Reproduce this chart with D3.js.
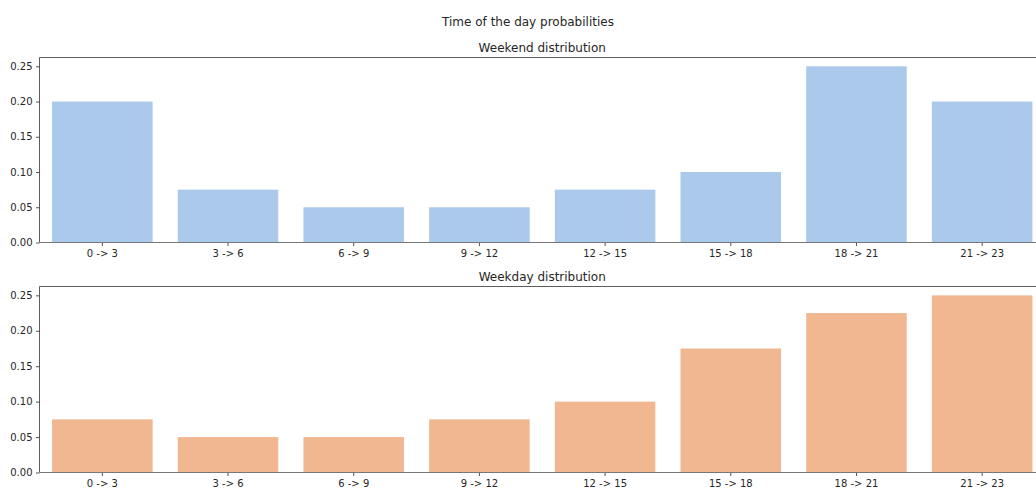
<!DOCTYPE html>
<html><head><meta charset="utf-8">
<script src="https://cdn.jsdelivr.net/npm/d3@7"></script>
<style>body{margin:0;background:#fff;} svg{display:block;font-family:"DejaVu Sans",sans-serif;}</style>
</head><body>
<svg id="c" width="1036" height="490"></svg>
<script>
const categories = ["0 -> 3","3 -> 6","6 -> 9","9 -> 12","12 -> 15","15 -> 18","18 -> 21","21 -> 23"];
const weekendValues = [0.2, 0.075, 0.05, 0.05, 0.075, 0.1, 0.25, 0.2];
const weekdayValues = [0.075, 0.05, 0.05, 0.075, 0.1, 0.175, 0.225, 0.25];
const yTicks = [0, 0.05, 0.10, 0.15, 0.20, 0.25];
const suptitle = "Time of the day probabilities";
const panels = [
  {title: "Weekend distribution", values: weekendValues, color: "#abc9ea", top: 57.5, bottom: 242.5},
  {title: "Weekday distribution", values: weekdayValues, color: "#f0b791", top: 286.5, bottom: 472.5}
];

const svg = d3.select("#c");
const left = 39.5, right = 1045;
const textColor = "#262626";

svg.append("text").attr("x", 528).attr("y", 26).attr("text-anchor","middle")
  .attr("font-size", 12).attr("fill", textColor).text(suptitle);

const x = d3.scaleBand().domain(categories).range([left, right]).paddingInner(0.2).paddingOuter(0.1);

panels.forEach(p => {
  const y = d3.scaleLinear().domain([0, 0.2625]).range([p.bottom, p.top]);
  const g = svg.append("g");
  g.selectAll("rect").data(p.values).join("rect")
    .attr("x", (d,i) => x(categories[i]))
    .attr("width", x.bandwidth())
    .attr("y", d => y(d))
    .attr("height", d => y(0) - y(d))
    .attr("fill", p.color);

  const yAxis = g.append("g").attr("transform", `translate(${left},0)`)
    .call(d3.axisLeft(y).tickValues(yTicks).tickFormat(d3.format(".2f")).tickSize(3.5).tickPadding(3.5));
  yAxis.select(".domain").remove();
  yAxis.selectAll("line").attr("stroke", textColor).attr("stroke-width", 0.8);
  yAxis.selectAll("text").attr("font-size", 10).attr("fill", textColor).attr("font-family", "DejaVu Sans");

  const xAxis = g.append("g").attr("transform", `translate(0,${p.bottom})`)
    .call(d3.axisBottom(x).tickSize(3.5).tickPadding(3.5));
  xAxis.select(".domain").remove();
  xAxis.selectAll("line").attr("stroke", textColor).attr("stroke-width", 0.8);
  xAxis.selectAll("text").attr("font-size", 10).attr("fill", textColor).attr("font-family", "DejaVu Sans");

  // spines
  g.append("line").attr("x1", left).attr("x2", right).attr("y1", p.top).attr("y2", p.top).attr("stroke", "#333").attr("stroke-width", 0.8);
  g.append("line").attr("x1", left).attr("x2", left).attr("y1", p.top).attr("y2", p.bottom).attr("stroke", "#333").attr("stroke-width", 0.8);
  g.append("line").attr("x1", left).attr("x2", right).attr("y1", p.bottom).attr("y2", p.bottom).attr("stroke", "#777").attr("stroke-width", 1.2);

  svg.append("text").attr("x", (left+right)/2).attr("y", p.top - 6).attr("text-anchor","middle")
    .attr("font-size", 12).attr("fill", textColor).text(p.title);
});
</script>
</body></html>
